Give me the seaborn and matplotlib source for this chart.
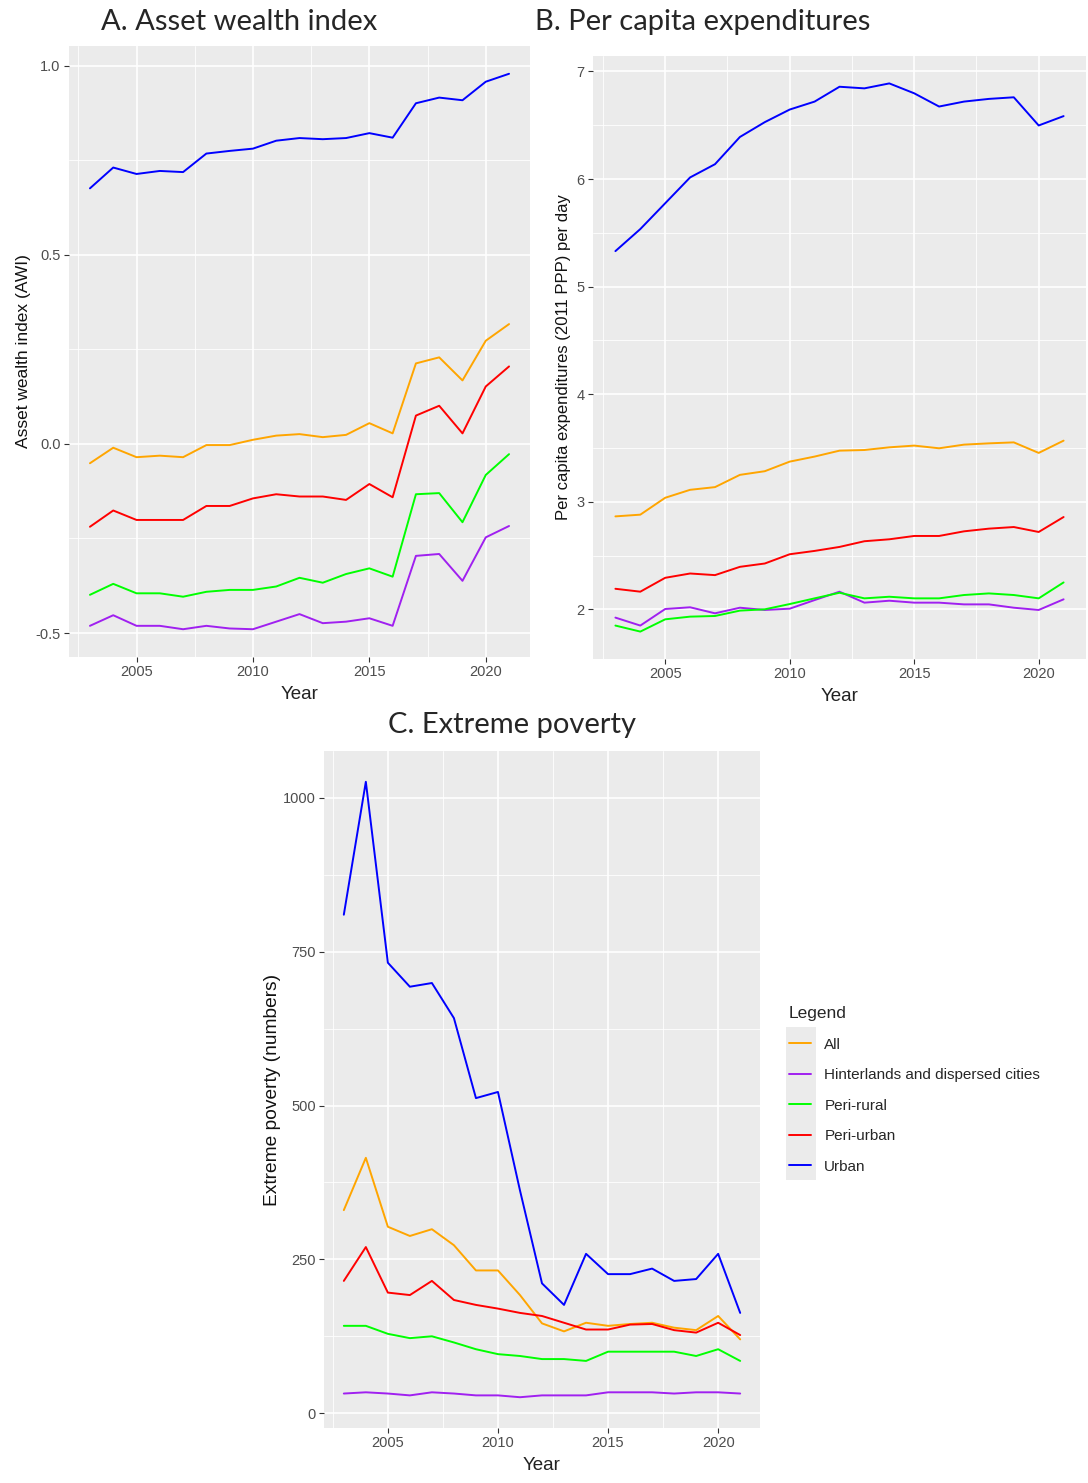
import pandas as pd
import matplotlib
matplotlib.use("Agg")
import matplotlib.pyplot as plt
from matplotlib.ticker import AutoMinorLocator, MultipleLocator
from matplotlib.patches import Rectangle
import seaborn as sns

# ===============================
# 1. DATA
# ===============================

years = list(range(2003, 2022))
groups = ["All", "Hinterlands and dispersed cities", "Peri-rural", "Peri-urban", "Urban"]
colors = ["#FFA500", "#A020F0", "#00FF00", "#FF0000", "#0000FF"]

# A. Asset wealth index
awi_all = [-0.051, -0.010, -0.035, -0.031, -0.035, -0.003, -0.003, 0.011, 0.022, 0.026,
           0.018, 0.024, 0.055, 0.028, 0.213, 0.229, 0.168, 0.273, 0.317]
awi_hinter = [-0.481, -0.453, -0.481, -0.481, -0.490, -0.481, -0.488, -0.490, -0.470, -0.450,
              -0.474, -0.470, -0.461, -0.481, -0.296, -0.291, -0.362, -0.247, -0.217]
awi_perirural = [-0.399, -0.370, -0.395, -0.395, -0.404, -0.391, -0.386, -0.386, -0.377, -0.354,
                 -0.367, -0.344, -0.329, -0.351, -0.133, -0.130, -0.207, -0.082, -0.027]
awi_periurban = [-0.219, -0.176, -0.201, -0.201, -0.201, -0.164, -0.164, -0.144, -0.133, -0.139,
                 -0.139, -0.148, -0.106, -0.141, 0.075, 0.101, 0.028, 0.152, 0.205]
awi_urban = [0.676, 0.731, 0.714, 0.722, 0.719, 0.768, 0.775, 0.781, 0.802, 0.809,
             0.806, 0.809, 0.822, 0.810, 0.901, 0.916, 0.909, 0.958, 0.979]

# B. Per capita expenditures
pce_all = [2.864, 2.880, 3.037, 3.111, 3.136, 3.250, 3.284, 3.373, 3.420, 3.475,
           3.481, 3.506, 3.522, 3.497, 3.531, 3.543, 3.552, 3.454, 3.568]
pce_hinter = [1.923, 1.849, 2.003, 2.019, 1.963, 2.015, 1.994, 2.006, 2.086, 2.164,
              2.062, 2.080, 2.062, 2.062, 2.046, 2.046, 2.015, 1.994, 2.093]
pce_perirural = [1.849, 1.793, 1.907, 1.932, 1.938, 1.988, 2.000, 2.049, 2.102, 2.154,
                 2.102, 2.117, 2.102, 2.102, 2.133, 2.148, 2.133, 2.102, 2.250]
pce_periurban = [2.191, 2.164, 2.293, 2.333, 2.318, 2.395, 2.426, 2.512, 2.543, 2.580,
                 2.633, 2.651, 2.682, 2.682, 2.725, 2.750, 2.765, 2.719, 2.858]
pce_urban = [5.330, 5.535, 5.775, 6.015, 6.138, 6.391, 6.529, 6.646, 6.720, 6.858,
             6.843, 6.889, 6.797, 6.674, 6.720, 6.745, 6.760, 6.498, 6.585]

# C. Extreme poverty
pov_all = [330, 415, 303, 288, 299, 273, 232, 232, 192, 146, 133, 147, 142, 145, 147, 139, 135, 158, 120]
pov_hinter = [32, 34, 32, 29, 34, 32, 29, 29, 26, 29, 29, 29, 34, 34, 34, 32, 34, 34, 32]
pov_perirural = [142, 142, 129, 122, 125, 115, 104, 96, 93, 88, 88, 85, 100, 100, 100, 100, 93, 104, 85]
pov_periurban = [215, 270, 196, 192, 215, 184, 176, 170, 163, 158, 147, 136, 136, 144, 145, 135, 131, 147, 127]
pov_urban = [810, 1026, 732, 693, 699, 642, 512, 522, 362, 211, 176, 259, 226, 226, 235, 215, 218, 259, 163]


def to_long(series):
    # series: list of value lists in the same order as groups
    rows = []
    for g, vals in zip(groups, series):
        for y, v in zip(years, vals):
            rows.append({"Year": y, "value": v, "group": g})
    return pd.DataFrame(rows)


df_a = to_long([awi_all, awi_hinter, awi_perirural, awi_periurban, awi_urban])
df_b = to_long([pce_all, pce_hinter, pce_perirural, pce_periurban, pce_urban])
df_c = to_long([pov_all, pov_hinter, pov_perirural, pov_periurban, pov_urban])

# ===============================
# 2. STYLE (ggplot2 grey theme look)
# ===============================

sns.set_theme(style="darkgrid", rc={
    "axes.facecolor": "#EBEBEB",
    "grid.color": "white",
})
plt.rcParams["font.family"] = ["Liberation Sans", "DejaVu Sans"]

W, H = 1088, 1483
fig = plt.figure(figsize=(W / 100, H / 100), dpi=100)
palette = dict(zip(groups, colors))


def px_axes(left, top, right, bottom):
    return fig.add_axes([left / W, 1 - bottom / H, (right - left) / W, (bottom - top) / H])


def style_axes(ax, ystep, ylabel, ylabel_size, ylabelpad, fmt=None):
    ax.xaxis.set_major_locator(MultipleLocator(5))
    ax.yaxis.set_major_locator(MultipleLocator(ystep))
    ax.xaxis.set_minor_locator(AutoMinorLocator(2))
    ax.yaxis.set_minor_locator(AutoMinorLocator(2))
    ax.grid(which="major", color="white", linewidth=1.2)
    ax.grid(which="minor", color="white", linewidth=0.6)
    for s in ax.spines.values():
        s.set_visible(False)
    ax.tick_params(which="major", length=3.5, width=0.8, color="#333333",
                   labelsize=10.5, labelcolor="#4D4D4D", pad=2.5, bottom=True, left=True)
    ax.tick_params(which="minor", length=0)
    if fmt:
        ax.yaxis.set_major_formatter(fmt)
    ax.set_xlabel("Year", fontsize=13.5, color="#222222", labelpad=5)
    ax.set_ylabel(ylabel, fontsize=ylabel_size, color="#111111", labelpad=ylabelpad)


# ===============================
# 3. PANELS
# ===============================

ax_a = px_axes(69, 46, 530, 657)
sns.lineplot(data=df_a, x="Year", y="value", hue="group", hue_order=groups,
             palette=palette, linewidth=1.4, legend=False, ax=ax_a)
style_axes(ax_a, 0.5, "Asset wealth index (AWI)", 12.5, 3, fmt=lambda v, p: f"{v:.1f}")

ax_b = px_axes(593, 56, 1086, 659)
sns.lineplot(data=df_b, x="Year", y="value", hue="group", hue_order=groups,
             palette=palette, linewidth=1.4, legend=False, ax=ax_b)
style_axes(ax_b, 1, "Per capita expenditures (2011 PPP) per day", 12, 4, fmt=lambda v, p: f"{v:.0f}")

ax_c = px_axes(324, 751, 760, 1428)
sns.lineplot(data=df_c, x="Year", y="value", hue="group", hue_order=groups,
             palette=palette, linewidth=1.4, ax=ax_c)
style_axes(ax_c, 250, "Extreme poverty (numbers)", 13.8, 1, fmt=lambda v, p: f"{v:.0f}")

# legend on the right of panel C
sns.move_legend(ax_c, "upper left", bbox_to_anchor=((783 - 324) / 436, 1 - (1000 - 751) / 677),
                title="Legend", frameon=False, fontsize=11, title_fontsize=12.5,
                handlelength=1.45, handletextpad=0.85, labelspacing=1.08, borderaxespad=0)
leg = ax_c.get_legend()
leg._legend_box.align = "left"
for line in leg.get_lines():
    line.set_linewidth(1.4)

# grey key background like ggplot legend keys
fig.patches.append(Rectangle((786 / W, 1 - 1180 / H), 30 / W, 153 / H,
                             transform=fig.transFigure, facecolor="#EBEBEB",
                             edgecolor="none", zorder=-1))

# panel titles
title_font = ["Lato", "DejaVu Sans"]
fig.text(239 / W, 1 - 22 / H, "A. Asset wealth index", fontsize=21, family=title_font,
         ha="center", va="center")
fig.text(703 / W, 1 - 22 / H, "B. Per capita expenditures", fontsize=21, family=title_font,
         ha="center", va="center")
fig.text(512 / W, 1 - 725 / H, "C. Extreme poverty", fontsize=21, family=title_font,
         ha="center", va="center")

fig.savefig("out.png", dpi=100)
